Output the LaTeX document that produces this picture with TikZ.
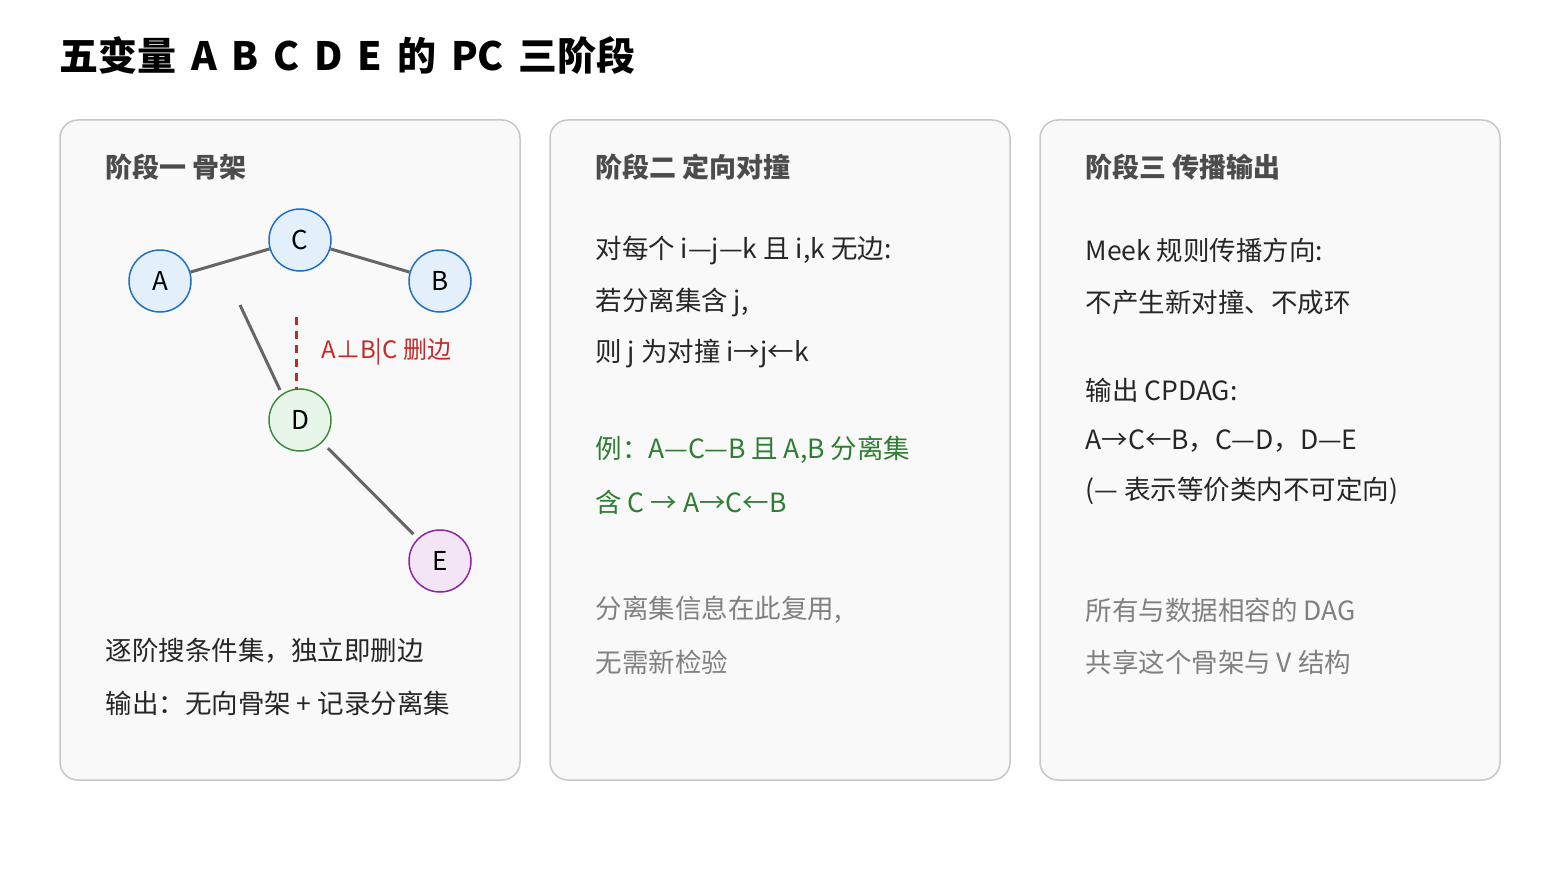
\documentclass[tikz,border=0pt]{standalone}
\usepackage{fontspec}
\setmainfont{Noto Sans CJK SC}
\definecolor{bstroke}{HTML}{1E6FC8}\definecolor{bfill}{HTML}{E3F0FC}
\definecolor{gstroke}{HTML}{3C8C40}\definecolor{gfill}{HTML}{E8F5E9}
\definecolor{pstroke}{HTML}{8E24AA}\definecolor{pfill}{HTML}{F3E5F5}
\definecolor{redt}{HTML}{C62828}\definecolor{grnt}{HTML}{2E7D32}
\newcommand{\tsp}{\hspace{0.38em}}
\begin{document}
\begin{tikzpicture}[x=1pt,y=-1pt,
 panel/.style={draw=black!22,fill=black!2.5,rounded corners=18pt,line width=1.5pt},
 head/.style={anchor=west,font=\fontsize{27}{30}\selectfont\bfseries,text=black!70},
 body/.style={anchor=west,font=\fontsize{26.5}{30}\selectfont,text=black!85},
 grn/.style={body,text=grnt},
 gry/.style={body,text=black!50},
 vtx/.style={circle,minimum size=62pt,line width=1.5pt,font=\fontsize{26}{30}\selectfont,inner sep=0pt},
 bl/.style={vtx,draw=bstroke,fill=bfill},
 edge/.style={line width=3pt,draw=black!60}]
\useasboundingbox (0,0) rectangle (1560,880);
\node[anchor=west,font=\fontsize{39}{44}\selectfont\bfseries] (t) at (56,55) {五变量\tsp A\tsp B\tsp C\tsp D\tsp E\tsp 的\tsp PC\tsp 三阶段};
\draw[panel] (60,120) rectangle (520,780);
\draw[panel] (550,120) rectangle (1010,780);
\draw[panel] (1040,120) rectangle (1500,780);
\node[head] (h1) at (102,167) {阶段一 骨架};
\node[head] (h2) at (592,167) {阶段二 定向对撞};
\node[head] (h3) at (1082,167) {阶段三 传播输出};
\node[bl] (A) at (160,281) {A};
\node[bl] (C) at (300,240) {C};
\node[bl] (B) at (440,281) {B};
\node[vtx,draw=gstroke,fill=gfill] (D) at (300,420) {D};
\node[vtx,draw=pstroke,fill=pfill] (E) at (440,561) {E};
\draw[edge] (A) -- (C);
\draw[edge] (C) -- (B);
\coordinate (p1) at (240,305); \coordinate (p2) at (280,390);
\draw[edge] (p1) -- (p2);
\draw[edge,shorten <=8pt,shorten >=6pt] (D) -- (E);
\coordinate (r1) at (296,317); \coordinate (r2) at (296,390);
\draw[redt,line width=3pt,dash pattern=on 8pt off 6pt] (r1) -- (r2);
\node[body,text=redt,font=\fontsize{24}{28}\selectfont] (lab) at (318,352) {A⊥B|C 删边};
\node[body] at (102,651) {逐阶搜条件集，独立即删边};
\node[body] at (102,703) {输出：无向骨架 + 记录分离集};
\node[body] at (592,250) {对每个 i—j—k 且 i,k 无边:};
\node[body] at (592,302) {若分离集含 j,};
\node[body] at (592,354) {则 j 为对撞 i→j←k};
\node[grn] at (592,450) {例：A—C—B 且 A,B 分离集};
\node[grn] at (592,502) {含 C → A→C←B};
\node[gry] at (592,610) {分离集信息在此复用,};
\node[gry] at (592,662) {无需新检验};
\node[body] at (1082,250) {Meek 规则传播方向:};
\node[body] at (1082,302) {不产生新对撞、不成环};
\node[body] at (1082,390) {输出 CPDAG:};
\node[body] at (1082,441) {A→C←B，C—D，D—E};
\node[body] at (1082,491) {(— 表示等价类内不可定向)};
\node[gry] at (1082,610) {所有与数据相容的 DAG};
\node[gry] at (1082,662) {共享这个骨架与 V 结构};
\end{tikzpicture}
\end{document}
